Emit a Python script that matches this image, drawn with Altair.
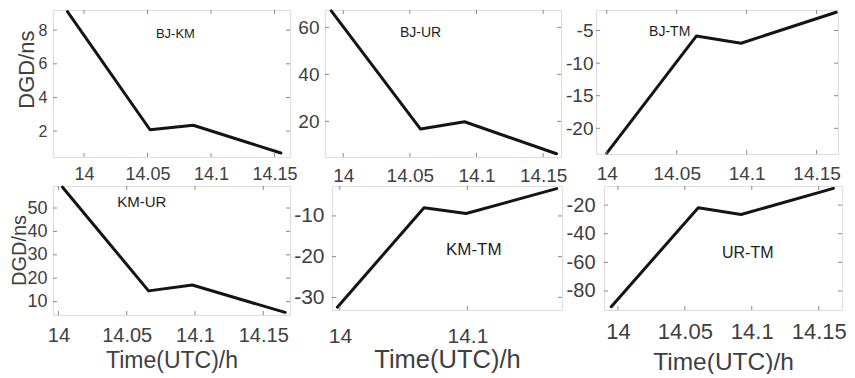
import altair as alt
import pandas as pd

# ---------------- data ----------------
pairs = ["BJ-KM", "BJ-UR", "BJ-TM", "KM-UR", "KM-TM", "UR-TM"]

time_bjkm = [13.987, 14.052, 14.086, 14.155]
dgd_bjkm = [9.1, 2.08, 2.35, 0.7]
time_bjur = [13.991, 14.058, 14.091, 14.160]
dgd_bjur = [67.0, 16.7, 19.8, 6.2]
time_bjtm = [14.000, 14.064, 14.096, 14.164]
dgd_bjtm = [-23.8, -5.85, -6.95, -2.2]
time_kmur = [14.003, 14.066, 14.098, 14.166]
dgd_kmur = [58.9, 14.6, 17.1, 5.4]
time_kmtm = [13.998, 14.066, 14.099, 14.170]
dgd_kmtm = [-32.4, -8.0, -9.4, -3.3]
time_urtm = [13.995, 14.060, 14.092, 14.161]
dgd_urtm = [-91.0, -21.9, -26.6, -8.3]

xticks_a = [14, 14.05, 14.1, 14.15]
xticks_b = [14, 14.1]
yticks_bjkm = [2, 4, 6, 8]
yticks_bjur = [20, 40, 60]
yticks_bjtm = [-20, -15, -10, -5]
yticks_kmur = [10, 20, 30, 40, 50]
yticks_kmtm = [-30, -20, -10]
yticks_urtm = [-80, -60, -40, -20]

xdom_bjkm = [13.9756, 14.1622]
xdom_bjur = [13.9863, 14.1634]
xdom_bjtm = [13.9923, 14.1653]
xdom_kmur = [13.9960, 14.1696]
xdom_kmtm = [13.9938, 14.1742]
xdom_urtm = [13.9896, 14.1674]

ydom_bjkm = [0.46, 9.2]
ydom_bjur = [4.8, 67.4]
ydom_bjtm = [-23.94, -1.85]
ydom_kmur = [4.3, 59.4]
ydom_kmtm = [-33.1, -2.65]
ydom_urtm = [-93.3, -6.65]

# annotation positions (data coordinates)
label_time = [14.072, 14.058, 14.045, 14.061, 14.105, 14.097]
label_dgd = [7.76, 57.4, -5.15, 52.6, -18.3, -53.4]

# ---------------- styling ----------------
FONT = "Liberation Sans"
TXT = "#404040"
FRAME = "#8a8a8a"
LINE = "#141414"

styles = [
    dict(w=237, h=147, xf=18, xpad=8.5, yf=16, ypad=6, af=13,
         ytitle="DGD/ns", ytf=22, ytx=-19.5, yty=59),
    dict(w=236, h=147, xf=19, xpad=9.5, yf=19, ypad=6, af=14),
    dict(w=242, h=144, xf=19, xpad=10.5, yf=19, ypad=3, af=14),
    dict(w=237, h=129, xf=20, xpad=10.5, yf=18, ypad=6, af=15,
         ytitle="DGD/ns", ytf=20, ytx=-28, yty=64,
         xtitle="Time(UTC)/h", xtf=23, xty=52.5),
    dict(w=230, h=124, xf=21, xpad=15, yf=21, ypad=8, af=17,
         xtitle="Time(UTC)/h", xtf=25.5, xty=57),
    dict(w=238, h=124, xf=22, xpad=11, yf=20, ypad=9, af=16,
         xtitle="Time(UTC)/h", xtf=24.5, xty=59),
]


def panel(name, t, v, xdom, ydom, xt, yt, lt, lv, st):
    w, h = st["w"], st["h"]
    xs = alt.Scale(domain=xdom, nice=False, zero=False)
    ys = alt.Scale(domain=ydom, nice=False, zero=False)

    xa = dict(values=xt, labelExpr="'' + datum.value", ticks=False, tickSize=0,
              domain=False, grid=False, labelFont=FONT, labelFontSize=st["xf"],
              labelColor=TXT, labelPadding=st["xpad"], labelFlush=False,
              labelOverlap=False)
    if "xtitle" in st:
        xa.update(title=st["xtitle"], titleFont=FONT, titleFontSize=st["xtf"],
                  titleColor=TXT, titleFontWeight="normal",
                  titleBaseline="alphabetic", titleY=st["xty"])
    else:
        xa.update(title=None)

    ya = dict(values=yt, labelExpr="'' + datum.value", ticks=False, tickSize=0,
              domain=False, grid=False, labelFont=FONT, labelFontSize=st["yf"],
              labelColor=TXT, labelPadding=st["ypad"], labelFlush=False,
              labelOverlap=False)
    if "ytitle" in st:
        ya.update(title=st["ytitle"], titleFont=FONT, titleFontSize=st["ytf"],
                  titleColor=TXT, titleFontWeight="normal",
                  titleBaseline="alphabetic", titleAlign="center",
                  titleX=st["ytx"], titleY=st["yty"])
    else:
        ya.update(title=None)

    X = lambda: alt.X("t:Q", scale=xs, axis=alt.Axis(**xa))
    Y = lambda: alt.Y("v:Q", scale=ys, axis=alt.Axis(**ya))

    df = pd.DataFrame({"t": t, "v": v})
    line = alt.Chart(df).mark_line(
        color=LINE, strokeWidth=3, strokeCap="round", strokeJoin="round"
    ).encode(x=X(), y=Y())

    xt_df = pd.DataFrame({"t": xt})
    yt_df = pd.DataFrame({"v": yt})
    tick_b = alt.Chart(xt_df).mark_rule(color=FRAME, strokeWidth=1).encode(
        x=X(), y=alt.value(h), y2=alt.value(h - 4))
    tick_t = alt.Chart(xt_df).mark_rule(color=FRAME, strokeWidth=1).encode(
        x=X(), y=alt.value(0), y2=alt.value(4))
    tick_l = alt.Chart(yt_df).mark_rule(color=FRAME, strokeWidth=1).encode(
        y=Y(), x=alt.value(0), x2=alt.value(4))
    tick_r = alt.Chart(yt_df).mark_rule(color=FRAME, strokeWidth=1).encode(
        y=Y(), x=alt.value(w), x2=alt.value(w - 4))

    ann_df = pd.DataFrame({"t": [lt], "v": [lv], "s": [name]})
    ann = alt.Chart(ann_df).mark_text(
        font=FONT, fontSize=st["af"], color="#1e1e1e"
    ).encode(x=X(), y=Y(), text="s:N")
    return alt.layer(line, tick_b, tick_t, tick_l, tick_r, ann).properties(width=w, height=h)


times = [time_bjkm, time_bjur, time_bjtm, time_kmur, time_kmtm, time_urtm]
dgds = [dgd_bjkm, dgd_bjur, dgd_bjtm, dgd_kmur, dgd_kmtm, dgd_urtm]
xdoms = [xdom_bjkm, xdom_bjur, xdom_bjtm, xdom_kmur, xdom_kmtm, xdom_urtm]
ydoms = [ydom_bjkm, ydom_bjur, ydom_bjtm, ydom_kmur, ydom_kmtm, ydom_urtm]
xticks = [xticks_a, xticks_a, xticks_a, xticks_a, xticks_b, xticks_a]
yticks = [yticks_bjkm, yticks_bjur, yticks_bjtm, yticks_kmur, yticks_kmtm, yticks_urtm]

panels = [
    panel(pairs[i], times[i], dgds[i], xdoms[i], ydoms[i], xticks[i], yticks[i],
          label_time[i], label_dgd[i], styles[i])
    for i in range(6)
]

row1 = alt.hconcat(panels[0], panels[1], panels[2], spacing=35, bounds="flush")
row2 = alt.hconcat(panels[3], panels[4], panels[5], spacing=42, bounds="flush")

chart = alt.vconcat(row1, row2, spacing=-1).properties(padding=0).configure_view(
    stroke=FRAME, strokeWidth=1
).configure(background="white")

chart.save("out.html", embed_options={"renderer": "svg", "actions": False})
